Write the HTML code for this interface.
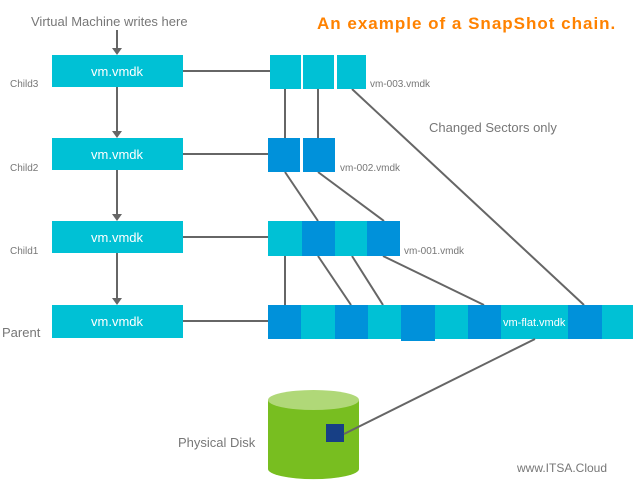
<!DOCTYPE html><html><head><style>body{margin:0;background:#fff}</style></head><body>
<svg width="639" height="490" xmlns="http://www.w3.org/2000/svg" font-family="Liberation Sans, sans-serif">
<g stroke="#666" stroke-width="2">
<line x1="117" y1="30" x2="117" y2="50"/>
<line x1="117" y1="87" x2="117" y2="133"/><line x1="117" y1="170" x2="117" y2="216"/><line x1="117" y1="253" x2="117" y2="300"/>
<line x1="183" y1="71" x2="270" y2="71"/><line x1="183" y1="154" x2="268" y2="154"/><line x1="183" y1="237" x2="268" y2="237"/><line x1="183" y1="321" x2="268" y2="321"/>
<line x1="285" y1="89" x2="285" y2="138"/><line x1="318" y1="89" x2="318" y2="138"/><line x1="352" y1="89" x2="584" y2="305"/>
<line x1="285" y1="172" x2="318" y2="221"/><line x1="318" y1="172" x2="384" y2="221"/>
<line x1="285" y1="256" x2="285" y2="305"/><line x1="318" y1="256" x2="351" y2="305"/><line x1="352" y1="256" x2="383" y2="305"/><line x1="383" y1="256" x2="484" y2="305"/>
</g>
<g fill="#666"><polygon points="112,48 122,48 117,55"/><polygon points="112,131 122,131 117,138"/><polygon points="112,214 122,214 117,221"/><polygon points="112,298 122,298 117,305"/></g>
<g fill="#00c1d5"><rect x="52" y="55" width="131" height="32"/><rect x="52" y="138" width="131" height="32"/><rect x="52" y="221" width="131" height="32"/><rect x="52" y="305" width="131" height="33"/>
<rect x="270" y="55" width="31" height="34"/><rect x="303" y="55" width="31" height="34"/><rect x="337" y="55" width="29" height="34"/>
<rect x="268" y="221" width="132" height="35"/><rect x="268" y="305" width="365" height="34"/></g>
<g fill="#0091da"><rect x="268" y="138" width="32" height="34"/><rect x="303" y="138" width="32" height="34"/>
<rect x="302" y="221" width="33" height="35"/><rect x="367" y="221" width="33" height="35"/>
<rect x="268" y="305" width="33" height="34"/><rect x="335" y="305" width="33" height="34"/><rect x="401" y="305" width="34" height="36"/><rect x="468" y="305" width="33" height="34"/><rect x="568" y="305" width="34" height="34"/></g>
<g fill="#fff" font-size="13" text-anchor="middle"><text x="117" y="76">vm.vmdk</text><text x="117" y="159">vm.vmdk</text><text x="117" y="242">vm.vmdk</text><text x="117" y="326">vm.vmdk</text></g>
<text x="503" y="326" fill="#fff" font-size="11">vm-flat.vmdk</text>
<g fill="#777" font-size="10"><text x="370" y="87">vm-003.vmdk</text><text x="340" y="171">vm-002.vmdk</text><text x="404" y="254">vm-001.vmdk</text>
<text x="10" y="87">Child3</text><text x="10" y="171">Child2</text><text x="10" y="254">Child1</text></g>
<text x="2" y="337" fill="#777" font-size="13">Parent</text>
<text x="31" y="26" fill="#777" font-size="13">Virtual Machine writes here</text>
<text x="429" y="132" fill="#777" font-size="13">Changed Sectors only</text>
<text x="178" y="447" fill="#777" font-size="13">Physical Disk</text>
<text x="517" y="472" fill="#777" font-size="12">www.ITSA.Cloud</text>
<text x="317" y="29" fill="#ff8200" font-size="17" font-weight="bold" letter-spacing="1">An example of a SnapShot chain.</text>
<path d="M268 400 V469 A45 10 0 0 0 359 469 V400 Z" fill="#78be20"/>
<ellipse cx="313.5" cy="400" rx="45.5" ry="10" fill="#b0d878"/>
<rect x="326" y="424" width="18" height="18" fill="#173f85"/>
<line x1="535" y1="339" x2="344" y2="434" stroke="#666" stroke-width="2"/>
</svg></body></html>
